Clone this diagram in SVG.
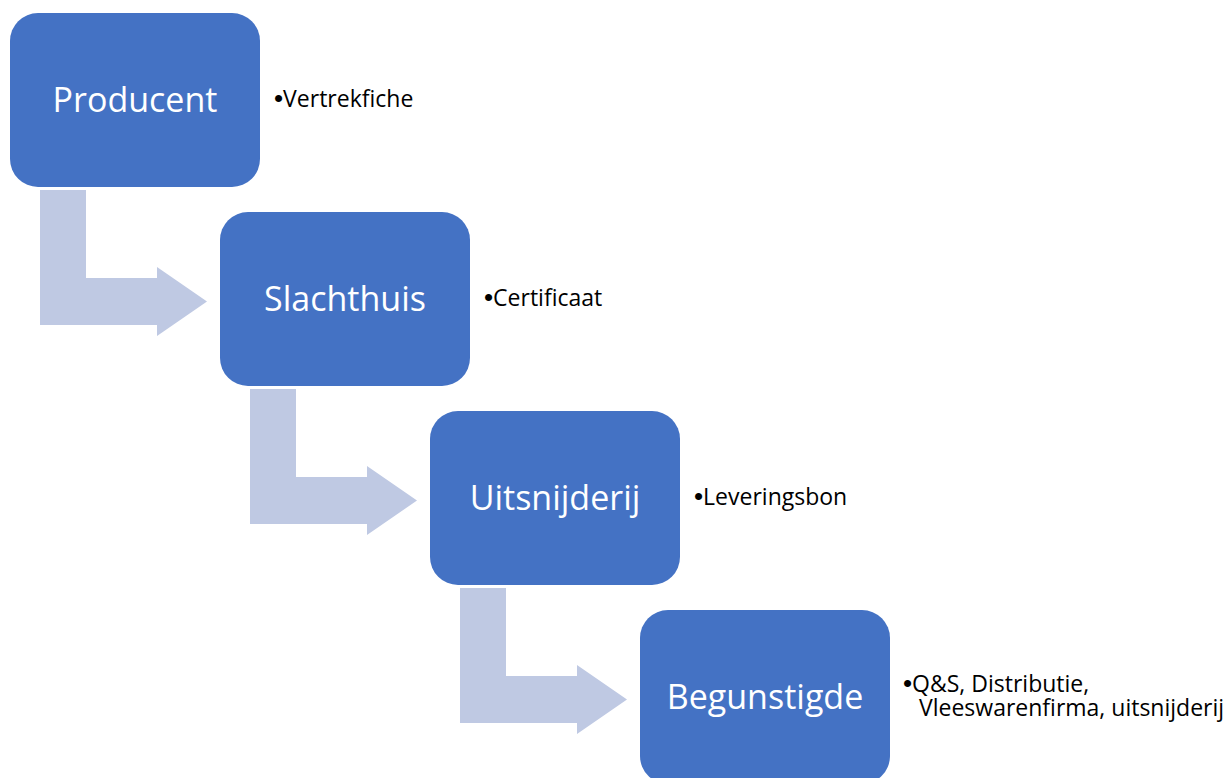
<svg xmlns="http://www.w3.org/2000/svg" width="1231" height="778" viewBox="0 0 1231 778">
<style>
.box{fill:#4472C4;}
.arr{fill:#BFC9E3;}
.lbl{font-family:"Open Sans","Liberation Sans",sans-serif;font-size:34px;fill:#FFFFFF;text-anchor:middle;}
.note{font-family:"Open Sans","Liberation Sans",sans-serif;font-size:23px;fill:#000000;}
.bul{font-family:"Liberation Sans",sans-serif;font-size:26px;}
</style>
<rect width="1231" height="778" fill="#FFFFFF"/>
<g id="connectors">
<path class="arr" d="M40,190 H86 V278 H157 V267 L207,301.5 L157,336 V325 H40 Z"/>
<path class="arr" d="M250,389 H296 V477 H367 V466 L417,500.5 L367,535 V524 H250 Z"/>
<path class="arr" d="M460,588 H506 V676 H577 V665 L627,699.5 L577,734 V723 H460 Z"/>
</g>
<g id="producent">
<rect class="box" x="10" y="13" width="250" height="174" rx="28"/>
<text class="lbl" x="135" y="112">Producent</text>
<text class="note" x="274" y="107"><tspan class="bul">•</tspan>Vertrekfiche</text>
</g>
<g id="slachthuis">
<rect class="box" x="220" y="212" width="250" height="174" rx="28"/>
<text class="lbl" x="345" y="311">Slachthuis</text>
<text class="note" x="484" y="306"><tspan class="bul">•</tspan>Certificaat</text>
</g>
<g id="uitsnijderij">
<rect class="box" x="430" y="411" width="250" height="174" rx="28"/>
<text class="lbl" x="555" y="510">Uitsnijderij</text>
<text class="note" x="694" y="505"><tspan class="bul">•</tspan>Leveringsbon</text>
</g>
<g id="begunstigde">
<rect class="box" x="640" y="610" width="250" height="174" rx="28"/>
<text class="lbl" x="765" y="709">Begunstigde</text>
<text class="note" x="903" y="692"><tspan class="bul">•</tspan>Q&amp;S, Distributie,<tspan x="919" y="716">Vleeswarenfirma, uitsnijderij</tspan></text>
</g>
</svg>
